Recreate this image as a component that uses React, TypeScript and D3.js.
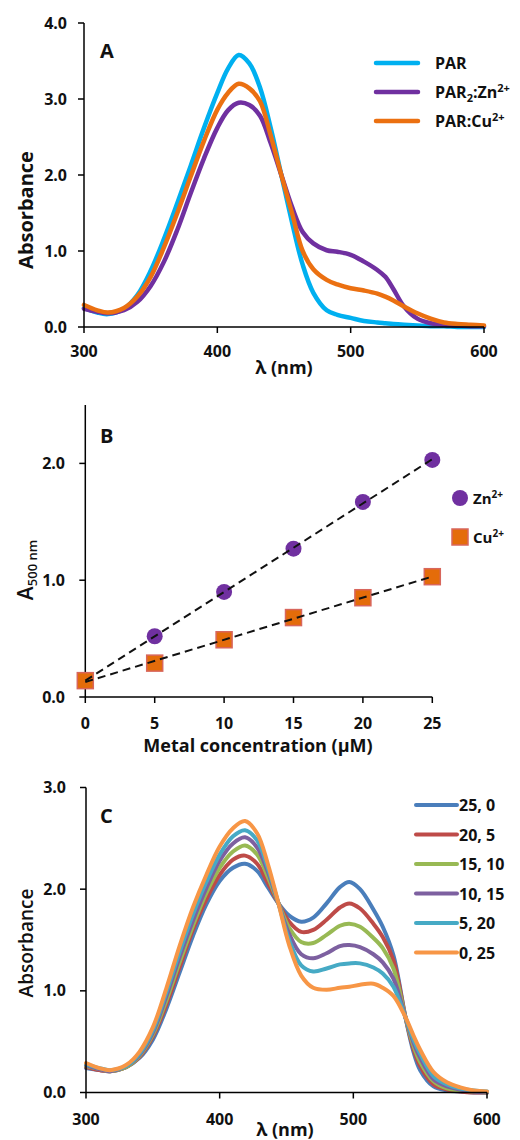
import React from "react";
import * as d3 from "d3";

const FONT = "'Open Sans', 'Liberation Sans', sans-serif";

// ---------- Panel A data ----------
const waveA = [300, 310, 318, 330, 340, 350, 360, 370, 380, 390, 400, 408, 416, 424, 432, 440, 448, 456, 464, 472, 482, 490, 500, 510, 520, 526, 532, 540, 550, 560, 570, 580, 590, 600];
const parA = [0.25, 0.19, 0.17, 0.24, 0.42, 0.74, 1.16, 1.63, 2.12, 2.62, 3.08, 3.4, 3.58, 3.47, 3.15, 2.62, 2.0, 1.38, 0.82, 0.45, 0.22, 0.16, 0.12, 0.08, 0.06, 0.05, 0.04, 0.03, 0.02, 0.01, 0.01, 0.0, 0.0, 0.0];
const parZnA = [0.24, 0.2, 0.18, 0.22, 0.33, 0.54, 0.86, 1.28, 1.76, 2.22, 2.62, 2.85, 2.95, 2.92, 2.78, 2.42, 2.0, 1.58, 1.25, 1.1, 1.01, 0.99, 0.95, 0.86, 0.75, 0.66, 0.5, 0.27, 0.11, 0.05, 0.03, 0.02, 0.01, 0.01];
const parCuA = [0.29, 0.22, 0.19, 0.25, 0.4, 0.66, 1.05, 1.5, 1.98, 2.45, 2.86, 3.08, 3.2, 3.14, 2.97, 2.52, 2.0, 1.5, 1.0, 0.76, 0.62, 0.56, 0.51, 0.48, 0.44, 0.4, 0.35, 0.27, 0.18, 0.11, 0.06, 0.04, 0.03, 0.02];
const colorsA = ["#00b0f0", "#7030a0", "#eb7011"];
const ticksAX = [300, 400, 500, 600];
const ticksAY = [0, 1, 2, 3, 4];

// ---------- Panel B data ----------
const concB = [0, 5, 10, 15, 20, 25];
const znB = [0.14, 0.52, 0.9, 1.27, 1.67, 2.03];
const cuB = [0.14, 0.29, 0.49, 0.68, 0.85, 1.03];
const ticksBX = [0, 5, 10, 15, 20, 25];
const ticksBY = [0, 1, 2];

// ---------- Panel C data ----------
const waveC = [300, 310, 318, 330, 340, 350, 360, 370, 380, 390, 400, 410, 419, 428, 436, 444, 452, 461, 470, 480, 490, 497, 505, 515, 522, 530, 539, 545, 550, 560, 570, 580, 590, 600];
const c25_0 = [0.24, 0.22, 0.21, 0.25, 0.34, 0.52, 0.82, 1.18, 1.54, 1.85, 2.08, 2.21, 2.25, 2.18, 2.02, 1.86, 1.74, 1.68, 1.72, 1.86, 2.02, 2.07, 2.0, 1.8, 1.63, 1.35, 0.74, 0.4, 0.22, 0.06, 0.02, 0.01, 0.0, 0.0];
const c20_5 = [0.25, 0.22, 0.21, 0.25, 0.35, 0.55, 0.86, 1.23, 1.6, 1.9, 2.14, 2.29, 2.33, 2.25, 2.06, 1.86, 1.68, 1.58, 1.6, 1.7, 1.82, 1.86, 1.81, 1.66, 1.53, 1.3, 0.74, 0.43, 0.26, 0.08, 0.03, 0.01, 0.0, 0.0];
const c15_10 = [0.26, 0.23, 0.21, 0.25, 0.36, 0.57, 0.9, 1.28, 1.64, 1.96, 2.21, 2.37, 2.43, 2.34, 2.12, 1.86, 1.62, 1.48, 1.47, 1.55, 1.64, 1.66, 1.63, 1.52, 1.42, 1.22, 0.74, 0.46, 0.3, 0.11, 0.04, 0.02, 0.01, 0.0];
const c10_15 = [0.27, 0.23, 0.21, 0.26, 0.37, 0.59, 0.94, 1.33, 1.69, 2.01, 2.28, 2.45, 2.51, 2.41, 2.17, 1.86, 1.56, 1.36, 1.32, 1.37, 1.44, 1.45, 1.43, 1.36, 1.28, 1.12, 0.74, 0.49, 0.34, 0.13, 0.06, 0.03, 0.01, 0.0];
const c5_20 = [0.28, 0.24, 0.22, 0.26, 0.38, 0.61, 0.98, 1.38, 1.75, 2.07, 2.34, 2.52, 2.58, 2.48, 2.21, 1.86, 1.5, 1.25, 1.19, 1.22, 1.26, 1.27, 1.27, 1.23, 1.17, 1.04, 0.74, 0.52, 0.38, 0.16, 0.08, 0.04, 0.02, 0.01];
const c0_25 = [0.29, 0.24, 0.22, 0.27, 0.4, 0.64, 1.02, 1.44, 1.82, 2.14, 2.42, 2.6, 2.67, 2.55, 2.25, 1.86, 1.45, 1.15, 1.03, 1.01, 1.03, 1.04, 1.06, 1.07, 1.03, 0.95, 0.74, 0.56, 0.42, 0.2, 0.1, 0.05, 0.02, 0.01];
const labelsC = ["25, 0", "20, 5", "15, 10", "10, 15", "5, 20", "0, 25"];
const colorsC = ["#4a7ebb", "#be4b48", "#98b954", "#7d60a0", "#46aac5", "#f79646"];
const ticksCX = [300, 400, 500, 600];
const ticksCY = [0, 1, 2, 3];

const tickFont = { fontFamily: FONT, fontWeight: 700, fontSize: 16, fill: "#111" } as const;

function Axes({ x, y, xTicks, yTicks, xFmt, yFmt, xLabelDy, yLabelX }: any) {
  const [x0, x1] = x.range();
  const [y0, y1] = y.range();
  return (
    <g>
      <line x1={x0} x2={x1} y1={y0} y2={y0} stroke="#000" strokeWidth={1.5} />
      <line x1={x0} x2={x0} y1={y0} y2={y1} stroke="#000" strokeWidth={1.5} />
      {xTicks.map((t: number) => (
        <g key={"x" + t}>
          <line x1={x(t)} x2={x(t)} y1={y0} y2={y0 + 6} stroke="#000" strokeWidth={1.5} />
          <text x={x(t)} y={y0 + xLabelDy} textAnchor="middle" style={tickFont}>{xFmt(t)}</text>
        </g>
      ))}
      {yTicks.map((t: number) => (
        <g key={"y" + t}>
          <line x1={x0 - 6} x2={x0} y1={y(t)} y2={y(t)} stroke="#000" strokeWidth={1.5} />
          <text x={yLabelX} y={y(t) + 5.5} textAnchor="end" style={tickFont}>{yFmt(t)}</text>
        </g>
      ))}
    </g>
  );
}

const f1 = d3.format(".1f");
const f0 = d3.format("d");

export default function App() {
  // Panel A
  const xA = d3.scaleLinear().domain([300, 600]).range([84, 484]);
  const yA = d3.scaleLinear().domain([0, 4]).range([327, 23]);
  const lineA = d3.line<number>().x((_, i) => xA(waveA[i])).y((d) => yA(d)).curve(d3.curveCatmullRom.alpha(0.5));
  const seriesA = [parA, parZnA, parCuA];

  // Panel B
  const xB = d3.scaleLinear().domain([0, 25]).range([85.3, 432.3]);
  const yB = d3.scaleLinear().domain([0, 2.5]).range([697, 405]);
  const fit = (ys: number[]) => {
    const mx = d3.mean(concB)!;
    const my = d3.mean(ys)!;
    const sxy = d3.sum(concB, (c, i) => (c - mx) * (ys[i] - my));
    const sxx = d3.sum(concB, (c) => (c - mx) * (c - mx));
    const m = sxy / sxx;
    const b = my - m * mx;
    return [0, 25].map((c) => [xB(c), yB(m * c + b)] as [number, number]);
  };
  const dashLine = d3.line();

  // Panel C
  const xC = d3.scaleLinear().domain([300, 600]).range([86, 487]);
  const yC = d3.scaleLinear().domain([0, 3]).range([1092.5, 787.5]);
  const lineC = d3.line<number>().x((_, i) => xC(waveC[i])).y((d) => yC(d)).curve(d3.curveCatmullRom.alpha(0.5));
  const seriesC = [c25_0, c20_5, c15_10, c10_15, c5_20, c0_25];

  const legA = [
    <tspan key="a">PAR</tspan>,
    <>
      <tspan>PAR</tspan>
      <tspan dy={4} fontSize={11}>2</tspan>
      <tspan dy={-4}>:Zn</tspan>
      <tspan dy={-6} fontSize={11}>2+</tspan>
    </>,
    <>
      <tspan>PAR:Cu</tspan>
      <tspan dy={-6} fontSize={11}>2+</tspan>
    </>,
  ];
  const legAY = [63, 92, 121];

  return (
    <svg width={520} height={1140} style={{ position: "absolute", left: 0, top: 0, background: "#fff" }}>
      <rect width={520} height={1140} fill="#fff" />
      {/* ---------------- Panel A ---------------- */}
      <g>
        {seriesA.map((s, i) => (
          <path key={i} d={lineA(s)!} fill="none" stroke={colorsA[i]} strokeWidth={4.5} strokeLinejoin="round" strokeLinecap="round" />
        ))}
        <Axes x={xA} y={yA} xTicks={ticksAX} yTicks={ticksAY} xFmt={f0} yFmt={f1} xLabelDy={30} yLabelX={67} />
        <text x={33} y={210} transform="rotate(-90 33 210)" textAnchor="middle" style={{ fontFamily: FONT, fontWeight: 700, fontSize: 20, fill: "#111" }}>Absorbance</text>
        <text x={284} y={374} textAnchor="middle" style={{ fontFamily: FONT, fontWeight: 700, fontSize: 18, fill: "#111" }}>λ (nm)</text>
        <text x={100} y={58} style={{ fontFamily: FONT, fontWeight: 700, fontSize: 20, fill: "#111" }}>A</text>
        {legA.map((l, i) => (
          <g key={i}>
            <line x1={376} x2={418} y1={legAY[i]} y2={legAY[i]} stroke={colorsA[i]} strokeWidth={4.5} strokeLinecap="round" />
            <text x={435} y={legAY[i] + 6} style={{ fontFamily: FONT, fontWeight: 700, fontSize: 16, fill: "#111" }}>{l}</text>
          </g>
        ))}
      </g>

      {/* ---------------- Panel B ---------------- */}
      <g>
        <Axes x={xB} y={yB} xTicks={ticksBX} yTicks={ticksBY} xFmt={f0} yFmt={f1} xLabelDy={32} yLabelX={65} />
        {concB.map((c, i) => (
          <circle key={"z" + i} cx={xB(c)} cy={yB(znB[i])} r={8} fill="#7030a0" />
        ))}
        {concB.map((c, i) => (
          <rect key={"c" + i} x={xB(c) - 8} y={yB(cuB[i]) - 8} width={16} height={16} fill="#e46c0a" stroke="#d8665c" strokeWidth={1.5} />
        ))}
        <path d={dashLine(fit(znB))!} fill="none" stroke="#111" strokeWidth={2} strokeDasharray="8,5" />
        <path d={dashLine(fit(cuB))!} fill="none" stroke="#111" strokeWidth={2} strokeDasharray="8,5" />
        <text x={33} y={570} transform="rotate(-90 33 570)" textAnchor="middle" style={{ fontFamily: FONT, fontWeight: 600, fontSize: 21, fill: "#111" }}>
          A<tspan dy={4} fontSize={13}>500 nm</tspan>
        </text>
        <text x={258} y={752} textAnchor="middle" style={{ fontFamily: FONT, fontWeight: 700, fontSize: 18, fill: "#111" }}>Metal concentration (µM)</text>
        <text x={100} y={443} style={{ fontFamily: FONT, fontWeight: 700, fontSize: 20, fill: "#111" }}>B</text>
        <circle cx={460} cy={498} r={8} fill="#7030a0" />
        <text x={473} y={504} style={{ fontFamily: FONT, fontWeight: 700, fontSize: 15, fill: "#111" }}>
          Zn<tspan dy={-6} fontSize={10}>2+</tspan>
        </text>
        <rect x={452} y={529} width={16} height={16} fill="#e46c0a" stroke="#d8665c" strokeWidth={1.5} />
        <text x={473} y={543} style={{ fontFamily: FONT, fontWeight: 700, fontSize: 15, fill: "#111" }}>
          Cu<tspan dy={-6} fontSize={10}>2+</tspan>
        </text>
      </g>

      {/* ---------------- Panel C ---------------- */}
      <g>
        {seriesC.map((s, i) => (
          <path key={i} d={lineC(s)!} fill="none" stroke={colorsC[i]} strokeWidth={4} strokeLinejoin="round" strokeLinecap="round" />
        ))}
        <Axes x={xC} y={yC} xTicks={ticksCX} yTicks={ticksCY} xFmt={f0} yFmt={f1} xLabelDy={32} yLabelX={66} />
        <text x={33} y={943} transform="rotate(-90 33 943)" textAnchor="middle" style={{ fontFamily: FONT, fontWeight: 600, fontSize: 19, fill: "#111" }}>Absorbance</text>
        <text x={285} y={1136} textAnchor="middle" style={{ fontFamily: FONT, fontWeight: 700, fontSize: 18, fill: "#111" }}>λ (nm)</text>
        <text x={100} y={823} style={{ fontFamily: FONT, fontWeight: 700, fontSize: 20, fill: "#111" }}>C</text>
        {labelsC.map((l, i) => {
          const ly = 805 + i * 29.5;
          return (
            <g key={l}>
              <line x1={416} x2={457} y1={ly} y2={ly} stroke={colorsC[i]} strokeWidth={4} strokeLinecap="round" />
              <text x={459} y={ly + 6} style={{ fontFamily: FONT, fontWeight: 700, fontSize: 16, fill: "#111" }}>{l}</text>
            </g>
          );
        })}
      </g>
    </svg>
  );
}
